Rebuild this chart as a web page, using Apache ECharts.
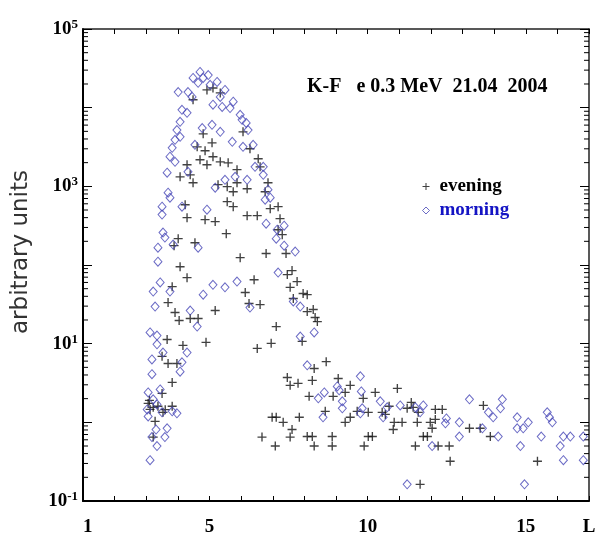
<!DOCTYPE html>
<html>
<head>
<meta charset="utf-8">
<script src="https://cdn.jsdelivr.net/npm/echarts@6/dist/echarts.min.js"></script>
<style>
html,body{margin:0;padding:0;background:#fff;}
#chart{width:599px;height:537px;}
</style>
</head>
<body>
<div id="chart"></div>
<script>
// L-shell (x) and intensity in arbitrary units (y)
var eveningData = [
[4.48,12600],[4.92,16800],[5.34,15400],[5.11,17800],[6.06,4930],[4.80,4650],[5.08,3570],[4.61,3180],
[4.86,2830],[5.11,2380],[4.70,2180],[4.92,1880],[5.34,2050],[5.59,1990],[4.29,1880],[4.07,1320],
[4.39,1400],[4.48,1110],[5.87,1630],[5.87,1110],[5.27,1050],[5.56,990],[5.75,853],[6.19,933],
[6.28,3000],[6.54,2240],[6.60,1770],[6.85,1110],[6.76,853],[5.56,638],[5.75,551],[6.19,424],
[6.51,424],[6.92,520],[7.17,551],[7.23,388],[7.17,281],[7.30,243],[4.23,583],[4.29,400],
[4.86,377],[5.18,356],[5.53,250],[4.01,216],[3.88,176],[4.54,192],[5.97,124],[6.79,140],
[7.42,140],[4.07,95],[4.29,69],[3.82,53],[3.69,33.3],[3.91,24.9],[4.04,19.7],[4.39,20.9],
[4.64,20.9],[3.66,11.3],[4.16,9.5],[4.89,10.4],[3.50,6.9],[3.69,5.6],[3.97,5.6],[3.82,3.22],
[3.50,2.33],[3.06,1.74],[3.37,1.60],[3.12,1.46],[3.82,1.60],[3.28,1.03],[3.22,0.65],[3.53,1.34],
[3.22,1.55],[3.60,1.45],[3.10,1.9],
[6.41,65],[6.13,44.7],[6.25,32.4],[6.60,31.4],[5.18,26.4],[7.61,85],[7.46,75.5],[7.77,61.5],
[7.55,52],[7.96,43.4],[8.09,42],[7.65,37.5],[8.09,25.6],[8.28,27.2],[8.34,21.5],[8.41,19.1],
[7.11,16.5],[6.95,10.1],[6.51,8.7],[7.93,10.7],[7.46,3.72],[7.55,2.95],[7.80,3.13],[8.25,3.41],
[8.15,2.14],[6.98,1.16],[7.11,1.16],[7.33,1.0],[7.84,1.16],[7.61,0.81],[6.66,0.65],[7.08,0.50],
[7.55,0.65],[8.09,0.66],[8.25,0.66],[8.31,0.50],[8.69,5.9],[8.31,4.84],[9.07,3.61],[9.45,2.95],
[9.29,2.40],[8.91,2.14],[9.86,2.02],[10.24,2.40],[10.94,2.70],[8.66,1.38],[9.67,1.38],[9.45,1.16],
[9.29,1.0],[10.02,1.34],[10.46,1.34],[10.68,1.60],[10.56,1.26],[10.84,1.0],[11.09,1.0],[10.81,0.81],
[11.25,1.51],[11.38,1.79],[11.44,1.55],[11.57,1.0],[11.60,1.34],[11.98,1.0],[12.04,0.84],[12.14,1.09],
[12.14,1.46],[12.36,1.46],[12.23,0.50],[12.58,0.50],[12.61,0.32],[13.22,0.84],[13.56,0.84],[13.66,1.64],
[13.88,0.66],[8.88,0.66],[8.88,0.50],[9.89,0.50],[10.02,0.66],[10.15,0.66],[11.51,0.50],[11.76,0.66],
[11.89,0.66],[11.66,0.163],[15.37,0.32]
];
var morningData = [
[4.70,28500],[4.96,26000],[4.48,23900],[4.80,23900],[5.24,21200],[4.64,20700],[5.02,19500],[5.49,16800],
[4.01,15800],[4.32,15800],[4.45,13700],[5.34,13700],[5.75,11900],[5.11,10900],[5.40,10200],[5.65,9900],
[4.13,9400],[4.29,8600],[5.97,8100],[6.03,7000],[4.07,6600],[6.16,6400],[3.97,5200],[4.77,5500],
[5.08,6050],[5.34,4930],[6.22,5200],[4.07,4260],[3.91,3900],[4.54,3370],[5.72,3680],[6.06,3180],
[6.38,3370],[3.82,3090],[3.75,2380],[3.91,2050],[6.44,1770],[6.70,1770],[6.70,1400],[3.66,1490],
[4.32,1530],[5.81,1320],[6.19,1210],[5.49,1210],[5.18,960],[6.85,906],[6.92,716],[3.75,716],
[3.69,830],[3.50,551],[4.13,551],[4.92,505],[3.50,437],[6.76,676],[6.79,335],[7.14,281],
[7.36,316],[7.11,216],[7.36,176],[7.71,148],[3.53,258],[3.59,223],[3.37,166],[3.85,182],
[4.64,166],[3.37,110],[7.17,80],[3.44,60],[3.22,46],[3.75,46],[4.80,42],[5.11,56],
[5.49,52],[5.87,61.5],[3.28,29.6],[4.39,26.4],[6.28,28.8],[7.65,34.4],[7.87,29.6],[4.61,16.5],
[3.12,13.9],[3.34,12.7],[3.34,9.8],[3.53,7.7],[4.29,7.7],[3.18,6.3],[4.13,5.8],[3.18,4.1],
[4.07,4.4],[7.87,12.3],[8.31,13.9],[8.09,5.3],[3.06,2.40],[3.44,2.62],[3.22,1.96],[3.03,1.46],
[3.06,1.19],[3.34,1.69],[3.50,1.34],[3.82,1.38],[3.97,1.30],[3.31,0.81],[3.66,0.84],[3.18,0.65],
[3.59,0.65],[3.34,0.50],[3.12,0.33],
[8.44,2.02],[8.63,2.40],[8.59,1.16],[9.04,2.86],[9.10,2.55],[9.20,1.85],[9.20,1.51],[9.77,3.84],
[9.80,2.47],[9.83,1.51],[9.77,1.30],[10.40,1.85],[10.49,1.16],[10.62,1.55],[11.03,1.64],[11.51,1.55],
[11.76,1.64],[11.66,1.34],[12.04,0.50],[11.25,0.163],[12.49,1.12],[12.46,0.97],[12.90,1.0],[12.90,0.66],
[13.22,1.96],[13.63,0.84],[13.82,1.34],[13.97,1.16],[14.20,1.51],[14.26,1.96],[14.13,0.66],[14.73,1.16],
[14.73,0.84],[14.92,0.84],[14.83,0.50],[15.08,1.0],[14.96,0.163],[15.49,0.66],[15.68,1.34],[15.75,1.16],
[15.84,1.0],[16.19,0.66],[16.41,0.66],[16.09,0.50],[16.19,0.33],[16.82,0.66],[16.82,0.33]
];
var xLabels = {1:'1', 5:'5', 10:'10', 15:'15', 17:'L'};
var yLabelExponents = [5, 3, 1, -1];
var minorMultipliers = [2,3,4,5,6,7,8,9];
var decades = [0.1, 1, 10, 100, 1000, 10000];
var xMin = 1, xMax = 17, yMin = 0.1, yMax = 100000;

var minorTicks = [];
decades.forEach(function(d){ minorMultipliers.forEach(function(m){ minorTicks.push([xMin, +(m*d).toPrecision(3)]); }); });

var serif = 'Liberation Serif';
var morningColor = '#4646b6';
var chart = echarts.init(document.getElementById('chart'), null, {renderer:'canvas'});
var option = {
  animation: false,
  backgroundColor: '#fff',
  title: {
    text: 'K-F   e 0.3 MeV  21.04  2004',
    left: 302, top: 72,
    textStyle: {fontFamily: serif, fontWeight: 'bold', fontSize: 20, color: '#000'}
  },
  legend: {
    orient: 'vertical', left: 417, top: 172, itemGap: 5,
    itemWidth: 7, itemHeight: 7, selectedMode: false,
    data: [
      {name: 'evening', textStyle: {color: '#000'}},
      {name: 'morning', textStyle: {color: '#1414c4'},
       itemStyle: {color: 'rgba(0,0,0,0)', borderColor: morningColor, borderWidth: 1}}
    ],
    textStyle: {fontFamily: serif, fontWeight: 'bold', fontSize: 19, padding: [0,0,0,5]}
  },
  graphic: [{
    type: 'text', x: 21, y: 252, rotation: Math.PI/2,
    style: {text: 'arbitrary units', fontFamily: 'DejaVu Sans', fontSize: 23, fill: '#333',
            align: 'center', verticalAlign: 'middle'}
  }],
  grid: {left: 83, right: 10, top: 29, bottom: 35, containLabel: false},
  xAxis: [{
    type: 'value', min: xMin, max: xMax, interval: 1, position: 'bottom',
    axisLine: {onZero: false, lineStyle: {color: '#000', width: 2}},
    axisTick: {inside: true, length: 5, lineStyle: {color: '#000', width: 1}},
    splitLine: {show: false},
    axisLabel: {
      margin: 17, color: '#000', fontFamily: serif, fontWeight: 'bold', fontSize: 19,
      alignMinLabel: 'left', showMinLabel: true, showMaxLabel: true,
      formatter: function(v){ return xLabels[Math.round(v)] !== undefined && Math.abs(v-Math.round(v))<1e-6 ? xLabels[Math.round(v)] : ''; }
    }
  },{
    type: 'value', min: xMin, max: xMax, interval: 1, position: 'top',
    axisLine: {onZero: false, lineStyle: {color: '#222', width: 1.5}},
    axisTick: {inside: true, length: 5, lineStyle: {color: '#000', width: 1}},
    splitLine: {show: false}, axisLabel: {show: false}
  }],
  yAxis: [{
    type: 'log', logBase: 10, min: yMin, max: yMax, splitNumber: 6, position: 'left',
    axisLine: {lineStyle: {color: '#000', width: 2}},
    axisTick: {inside: true, length: 9, lineStyle: {color: '#000', width: 1}},
    splitLine: {show: false},
    axisLabel: {
      margin: 5, color: '#000',
      formatter: function(v){
        var e = Math.round(Math.log(v)/Math.LN10);
        return yLabelExponents.indexOf(e) >= 0 ? '{b|10}{e|' + e + '}' : '';
      },
      rich: {
        b: {fontFamily: serif, fontWeight: 'bold', fontSize: 19, lineHeight: 22, color: '#000'},
        e: {fontFamily: serif, fontWeight: 'bold', fontSize: 13, lineHeight: 13, verticalAlign: 'top', color: '#000'}
      }
    }
  },{
    type: 'log', logBase: 10, min: yMin, max: yMax, splitNumber: 6, position: 'right',
    axisLine: {lineStyle: {color: '#222', width: 1.5}},
    axisTick: {inside: true, length: 9, lineStyle: {color: '#000', width: 1}},
    splitLine: {show: false}, axisLabel: {show: false}
  }],
  series: [{
    type: 'custom', name: 'minorTicks', silent: true, z: 1,
    xAxisIndex: 0, yAxisIndex: 0, clip: false,
    data: minorTicks,
    renderItem: function(params, api){
      var v = api.value(1);
      var pL = api.coord([xMin, v]);
      var pR = api.coord([xMax, v]);
      return {type: 'group', children: [
        {type: 'line', shape: {x1: pL[0], y1: pL[1], x2: pL[0] + 5, y2: pL[1]}, style: {stroke: '#000', lineWidth: 1}},
        {type: 'line', shape: {x1: pR[0], y1: pR[1], x2: pR[0] - 5, y2: pR[1]}, style: {stroke: '#000', lineWidth: 1}}
      ]};
    }
  },{
    type: 'scatter', name: 'evening', xAxisIndex: 0, yAxisIndex: 0,
    data: eveningData,
    symbol: 'path://M4.25,0H5.75V10H4.25Z M0,4.25H10V5.75H0Z',
    symbolSize: 9,
    itemStyle: {color: '#111'}
  },{
    type: 'scatter', name: 'morning', xAxisIndex: 0, yAxisIndex: 0,
    data: morningData,
    symbol: 'diamond', symbolSize: [8, 9],
    itemStyle: {color: 'rgba(0,0,0,0)', borderColor: morningColor, borderWidth: 1}
  }]
};
chart.setOption(option);
</script>
</body>
</html>
